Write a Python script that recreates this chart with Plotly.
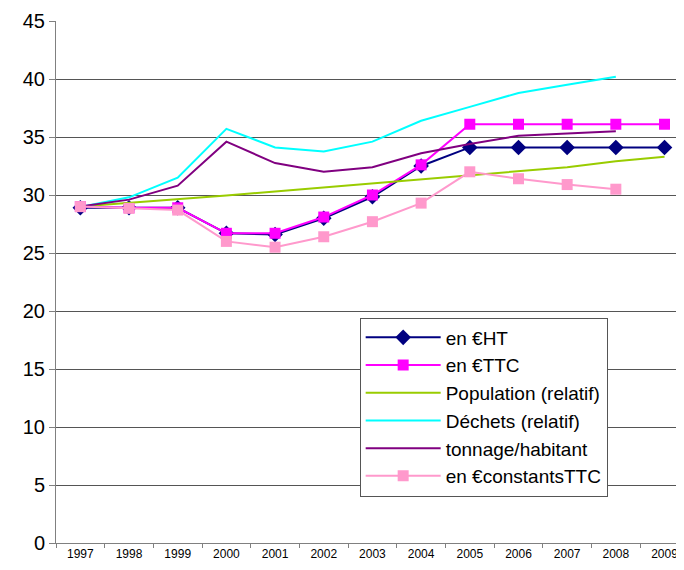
import plotly.graph_objects as go

years = [str(y) for y in range(1997, 2010)]
en_ht = [28.9, 28.9, 28.9, 26.7, 26.6, 28.0, 29.85, 32.5, 34.1, 34.1, 34.1, 34.1, 34.1]
en_ttc = [29.0, 28.9, 28.9, 26.7, 26.7, 28.1, 30.0, 32.6, 36.1, 36.1, 36.1, 36.1, 36.1]
population = [29.0, 29.3, 29.6, 29.95, 30.3, 30.65, 30.95, 31.3, 31.7, 32.0, 32.4, 32.9, 33.3]
dechets = [28.96, 29.8, 31.5, 35.7, 34.1, 33.75, 34.6, 36.4, 37.6, 38.8, 39.5, 40.2, None]
tonnage = [29.0, 29.6, 30.8, 34.6, 32.75, 32.0, 32.4, 33.6, 34.4, 35.1, 35.3, 35.5, None]
constants_ttc = [29.0, 28.85, 28.7, 26.0, 25.5, 26.4, 27.7, 29.3, 32.0, 31.4, 30.9, 30.5, None]

y_ticks = [0, 5, 10, 15, 20, 25, 30, 35, 40, 45]

fig = go.Figure()
fig.add_trace(go.Scatter(x=years, y=en_ht, name="en €HT", mode="lines+markers",
                         line=dict(color="#000080", width=2),
                         marker=dict(symbol="diamond", size=12, color="#000080")))
fig.add_trace(go.Scatter(x=years, y=en_ttc, name="en €TTC", mode="lines+markers",
                         line=dict(color="#FF00FF", width=2),
                         marker=dict(symbol="square", size=11, color="#FF00FF")))
fig.add_trace(go.Scatter(x=years, y=population, name="Population (relatif)", mode="lines",
                         line=dict(color="#99CC00", width=2)))
fig.add_trace(go.Scatter(x=years, y=dechets, name="Déchets (relatif)", mode="lines",
                         line=dict(color="#00FFFF", width=2)))
fig.add_trace(go.Scatter(x=years, y=tonnage, name="tonnage/habitant", mode="lines",
                         line=dict(color="#800080", width=2)))
fig.add_trace(go.Scatter(x=years, y=constants_ttc, name="en €constantsTTC", mode="lines+markers",
                         line=dict(color="#FF99CC", width=2),
                         marker=dict(symbol="square", size=11, color="#FF99CC")))

fig.update_layout(
    width=684, height=570,
    margin=dict(l=48, r=8, t=13, b=35),
    paper_bgcolor="white", plot_bgcolor="white",
    font=dict(family="Liberation Sans, Arial, sans-serif", color="black"),
    showlegend=True,
    legend=dict(x=0.681, y=0.2605, xanchor="center", yanchor="middle",
                bgcolor="white", bordercolor="#555555", borderwidth=1,
                font=dict(size=19, color="black"), tracegroupgap=0,
                itemwidth=75),
    xaxis=dict(type="category", range=[-0.5, 12.4], showgrid=False,
               showline=True, linecolor="#808080", linewidth=1,
               ticks="outside", ticklen=4, tickcolor="#808080",
               tickson="boundaries", automargin=False,
               tickfont=dict(size=12, family="Liberation Sans Narrow, Arial Narrow, sans-serif"),
               zeroline=False),
    yaxis=dict(range=[0, 45], tickvals=y_ticks, showgrid=True, gridcolor="#555555",
               gridwidth=1, showline=True, linecolor="#808080", linewidth=1,
               ticks="outside", ticklen=6, tickcolor="#808080", automargin=False,
               tickfont=dict(size=20), zeroline=False),
)

fig.write_html("out.html")
